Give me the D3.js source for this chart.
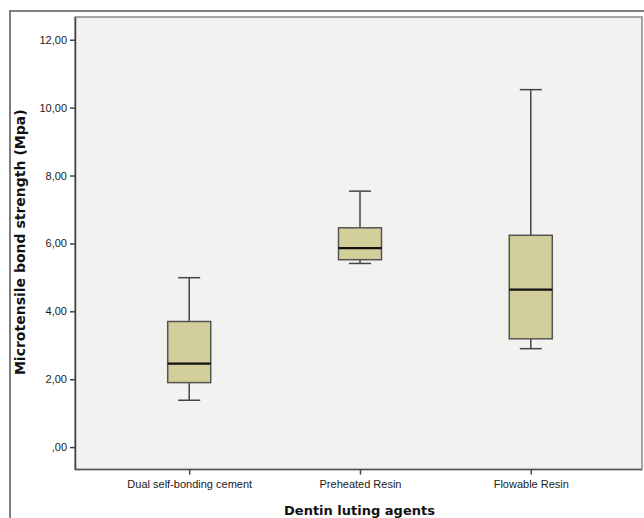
<!DOCTYPE html>
<html>
<head>
<meta charset="utf-8">
<script src="https://cdn.jsdelivr.net/npm/d3@7"></script>
<style>
  body { margin: 0; background: #fff; }
  svg { display: block; }
</style>
</head>
<body>
<svg id="chart" width="644" height="518"></svg>
<script>
// groups and box statistics
var groups = ["Dual self-bonding cement", "Preheated Resin", "Flowable Resin"];
var whiskerLow = [1.38, 5.41, 2.90];
var q1 = [1.90, 5.52, 3.19];
var median = [2.46, 5.86, 4.64];
var q3 = [3.70, 6.46, 6.24];
var whiskerHigh = [4.99, 7.54, 10.53];
var yTicks = [0, 2, 4, 6, 8, 10, 12];

var svg = d3.select("#chart");
var plot = { left: 75, top: 17, right: 642, bottom: 469.5 };

// outer frame
svg.append("rect").attr("x", 10).attr("y", 11).attr("width", 700).attr("height", 600)
    .attr("fill", "#fff").attr("stroke", "#555").attr("stroke-width", 1.5);

// plot background
svg.append("rect").attr("x", plot.left).attr("y", plot.top)
    .attr("width", plot.right - plot.left).attr("height", plot.bottom - plot.top)
    .attr("fill", "#f2f2f1").attr("stroke", "#8a8a8a").attr("stroke-width", 1.5);

var y = d3.scaleLinear().domain([-0.66, 12.67]).range([plot.bottom, plot.top]);
var x = d3.scalePoint().domain(groups).range([plot.left + 1.5, plot.right + 1.5]).padding(0.66);

var fmt = function (d) { return d === 0 ? ",00" : d3.format(".2f")(d).replace(".", ","); };

// y axis
var yAxis = svg.append("g").attr("transform", "translate(" + plot.left + ",0)")
    .call(d3.axisLeft(y).tickValues(yTicks).tickFormat(fmt).tickSize(5).tickSizeOuter(0).tickPadding(3));
yAxis.select(".domain").attr("stroke", "#444").attr("stroke-width", 1.5);
yAxis.selectAll(".tick line").attr("stroke", "#444").attr("stroke-width", 1.5);
yAxis.selectAll("text").attr("font-family", "Liberation Sans, Arial, sans-serif")
    .attr("font-size", 11).attr("fill", "#1a1a1a");

// x axis
var xAxis = svg.append("g").attr("transform", "translate(0," + plot.bottom + ")")
    .call(d3.axisBottom(x).tickSize(5).tickSizeOuter(0).tickPadding(6));
xAxis.select(".domain").attr("stroke", "#555").attr("stroke-width", 1.5)
    .attr("d", "M" + plot.left + ",0H" + plot.right);
xAxis.selectAll(".tick line").attr("stroke", "#444").attr("stroke-width", 1.5);
xAxis.selectAll("text").attr("font-family", "Liberation Sans, Arial, sans-serif")
    .attr("font-size", 11).attr("fill", "#1a1a1a");

// boxes
var boxW = 43, capW = 22;
var boxes = svg.append("g").selectAll("g").data(groups).join("g");
boxes.each(function (g, i) {
    var b = d3.select(this), cx = x(g);
    b.append("line").attr("x1", cx).attr("x2", cx)
        .attr("y1", y(whiskerHigh[i])).attr("y2", y(whiskerLow[i]))
        .attr("stroke", "#444").attr("stroke-width", 1.5);
    [whiskerLow[i], whiskerHigh[i]].forEach(function (v) {
        b.append("line").attr("x1", cx - capW / 2).attr("x2", cx + capW / 2)
            .attr("y1", y(v)).attr("y2", y(v))
            .attr("stroke", "#444").attr("stroke-width", 1.5);
    });
    b.append("rect").attr("x", cx - boxW / 2).attr("y", y(q3[i]))
        .attr("width", boxW).attr("height", y(q1[i]) - y(q3[i]))
        .attr("fill", "#d3cf9b").attr("stroke", "#555").attr("stroke-width", 1.5);
    b.append("line").attr("x1", cx - boxW / 2).attr("x2", cx + boxW / 2)
        .attr("y1", y(median[i])).attr("y2", y(median[i]))
        .attr("stroke", "#111").attr("stroke-width", 2.2);
});

// axis titles
svg.append("text").attr("x", (plot.left + plot.right) / 2 + 1).attr("y", 515)
    .attr("text-anchor", "middle").attr("font-family", "DejaVu Sans, sans-serif")
    .attr("font-weight", "bold").attr("font-size", 13).attr("fill", "#111")
    .text("Dentin luting agents");
svg.append("text")
    .attr("transform", "translate(25," + ((plot.top + plot.bottom) / 2 - 1) + ") rotate(-90)")
    .attr("text-anchor", "middle").attr("font-family", "DejaVu Sans, sans-serif")
    .attr("font-weight", "bold").attr("font-size", 14).attr("fill", "#111")
    .text("Microtensile bond strength (Mpa)");
</script>
</body>
</html>
